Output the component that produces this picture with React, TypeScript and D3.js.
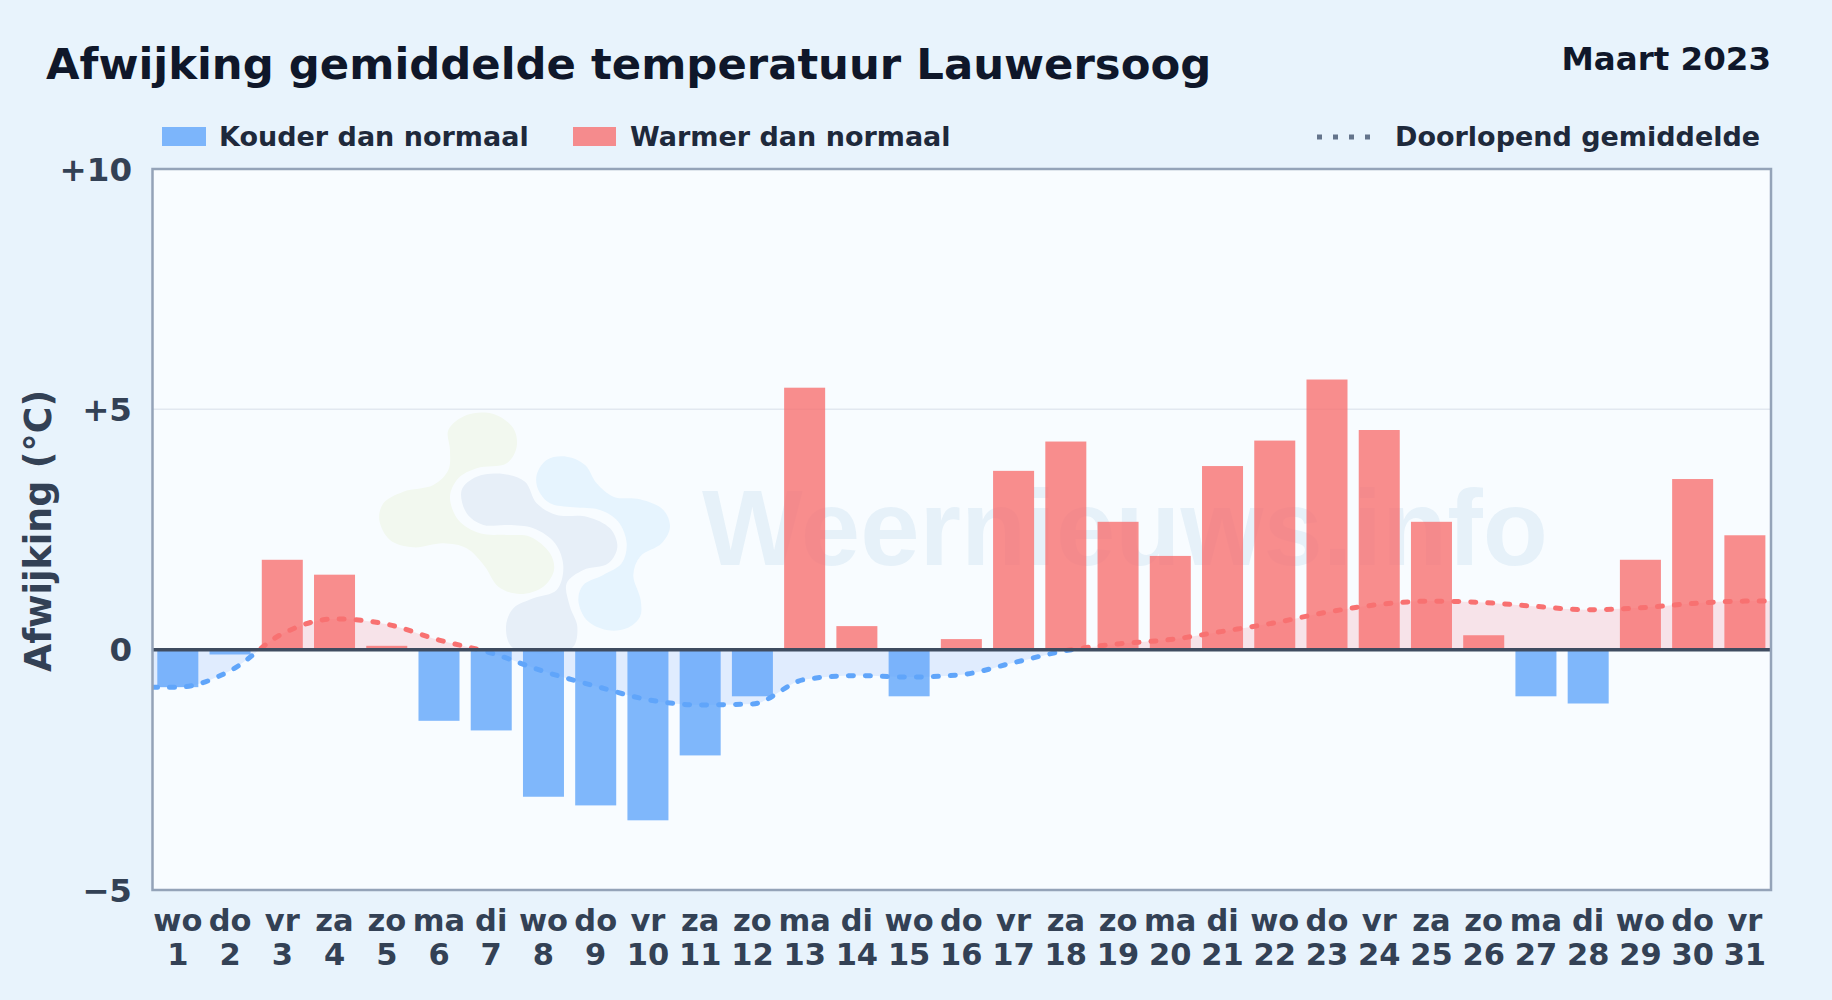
import React from "react";
import * as d3 from "d3";

const W = 1832, H = 1000;
const margin = { left: 152.5, right: 61, top: 169, bottom: 110 };

const weekdays = ["wo","do","vr","za","zo","ma","di","wo","do","vr","za","zo","ma","di","wo","do","vr","za","zo","ma","di","wo","do","vr","za","zo","ma","di","wo","do","vr"];
const days = ["1","2","3","4","5","6","7","8","9","10","11","12","13","14","15","16","17","18","19","20","21","22","23","24","25","26","27","28","29","30","31"];
const anomaly = [-0.78,-0.1,1.87,1.56,0.08,-1.48,-1.68,-3.06,-3.24,-3.55,-2.2,-0.97,5.45,0.49,-0.97,0.22,3.72,4.33,2.66,1.95,3.82,4.35,5.62,4.57,2.66,0.3,-0.97,-1.12,1.87,3.55,2.38];
const runningMean = [-0.78,-0.44,0.33,0.64,0.53,0.2,-0.07,-0.45,-0.76,-1.04,-1.15,-1.13,-0.62,-0.54,-0.57,-0.52,-0.27,-0.02,0.12,0.21,0.38,0.56,0.78,0.94,1.01,0.98,0.9,0.83,0.87,0.96,1.01];
const yTicks = [10, 5, 0, -5];
const yTickLabels = ["+10", "+5", "0", "−5"];
const title = "Afwijking gemiddelde temperatuur Lauwersoog";
const period = "Maart 2023";
const legendCold = "Kouder dan normaal";
const legendWarm = "Warmer dan normaal";
const legendMean = "Doorlopend gemiddelde";
const yTitle = "Afwijking (°C)";
const watermark = "Weernieuws.info";

const logoGreen: [number, number][] = [[552,510],[520,560],[450,582],[385,560],[345,500],[290,445],[220,430],[130,442],[60,420],[28,360],[40,310],[100,275],[190,255],[235,210],[240,150],[235,90],[290,45],[370,42],[430,85],[440,140],[410,190],[320,205],[265,235],[240,290],[265,360],[330,400],[410,405],[480,410],[540,460]];
const logoGrey: [number, number][] = [[275,270],[320,230],[400,222],[465,245],[500,310],[560,345],[650,350],[720,385],[742,440],[715,490],[640,510],[590,550],[600,620],[622,680],[605,745],[430,745],[408,680],[430,625],[490,595],[560,570],[580,500],[555,430],[490,385],[410,375],[340,375],[290,340]];
const logoBlue: [number, number][] = [[500,225],[530,180],[590,170],[645,195],[680,250],[730,290],[810,298],[880,330],[900,380],[875,430],[810,470],[790,525],[812,600],[810,650],[770,685],[710,690],[650,660],[625,600],[640,555],[700,525],[755,490],[770,430],[745,365],[690,330],[610,322],[540,310],[505,270]];

const FONT = "'DejaVu Sans', sans-serif";

export default function App() {
  const innerL = margin.left, innerR = W - margin.right;
  const innerT = margin.top, innerB = H - margin.bottom;
  const x = d3.scaleBand<string>().domain(days).range([innerL - 0.8, innerR]).paddingInner(0.215).paddingOuter(0.1075);
  const y = d3.scaleLinear().domain([-5, 10]).range([innerB, innerT]);
  const cx = (d: string) => (x(d) as number) + x.bandwidth() / 2;
  const y0 = y(0);

  const pts: [number, number][] = [
    [innerL, runningMean[0]],
    ...days.map((d, i) => [cx(d), runningMean[i]] as [number, number]),
    [innerR, runningMean[runningMean.length - 1]],
  ];
  const line = d3.line<[number, number]>().x(d => d[0]).y(d => y(d[1])).curve(d3.curveMonotoneX);
  const area = d3.area<[number, number]>().x(d => d[0]).y0(y0).y1(d => y(d[1])).curve(d3.curveMonotoneX);

  const logoPath = d3.line<[number, number]>().x(d => 370 + d[0] / 3).y(d => 400 + d[1] / 3).curve(d3.curveCatmullRomClosed.alpha(0.5));
  const meanPath = line(pts) as string;
  const areaPath = area(pts) as string;

  return (
    <svg width={W} height={H} viewBox={`0 0 ${W} ${H}`} style={{ position: "absolute", left: 0, top: 0, display: "block" }} fontFamily={FONT}>
      <defs>
        <clipPath id="above"><rect x={innerL} y={innerT} width={innerR - innerL} height={y0 - innerT} /></clipPath>
        <clipPath id="below"><rect x={innerL} y={y0} width={innerR - innerL} height={innerB - y0} /></clipPath>
      </defs>
      <rect width={W} height={H} fill="#e8f3fc" />
      <rect x={innerL} y={innerT} width={innerR - innerL} height={innerB - innerT} fill="#f8fcff" />

      <g>
        <path d={logoPath(logoGreen) as string} fill="#f2f8ef" />
        <path d={logoPath(logoGrey) as string} fill="#e7eff8" />
        <path d={logoPath(logoBlue) as string} fill="#e6f4fe" />
        <text x={702} y={565} fontFamily="'Liberation Sans', sans-serif" fontWeight={700} fontSize={107} textLength={846} lengthAdjust="spacingAndGlyphs" fill="#1f6fb8" fillOpacity={0.08}>{watermark}</text>
      </g>

      <line x1={innerL} x2={innerR} y1={y(5)} y2={y(5)} stroke="#e2e8f0" strokeWidth={1.5} />

      <path d={areaPath} fill="#f5324a" fillOpacity={0.12} clipPath="url(#above)" />
      <path d={areaPath} fill="#3b82f6" fillOpacity={0.13} clipPath="url(#below)" />

      {days.map((d, i) => {
        const v = anomaly[i];
        const top = Math.min(y(v), y0);
        return (
          <rect key={d} x={x(d)} y={top} width={x.bandwidth()} height={Math.abs(y(v) - y0)}
            fill={v >= 0 ? "#f87171" : "#60a5fa"} fillOpacity={0.8} />
        );
      })}

      <path d={meanPath} fill="none" stroke="#f87171" strokeWidth={5} strokeLinecap="round" strokeDasharray="5 12" clipPath="url(#above)" />
      <path d={meanPath} fill="none" stroke="#60a5fa" strokeWidth={5} strokeLinecap="round" strokeDasharray="5 12" clipPath="url(#below)" />

      <line x1={innerL} x2={innerR} y1={y0} y2={y0} stroke="#3f4c60" strokeWidth={3.5} />
      <rect x={innerL} y={innerT} width={innerR - innerL} height={innerB - innerT} fill="none" stroke="#94a3b8" strokeWidth={2.5} />

      {yTicks.map((t, i) => (
        <text key={t} x={132} y={y(t) + 11.5} textAnchor="end" fontWeight={700} fontSize={32.5} fill="#334155">{yTickLabels[i]}</text>
      ))}
      {days.map((d, i) => (
        <g key={d} textAnchor="middle" fontWeight={700} fontSize={30.5} fill="#334155">
          <text x={cx(d)} y={931}>{weekdays[i]}</text>
          <text x={cx(d)} y={965}>{d}</text>
        </g>
      ))}

      <text transform="translate(50.5,531) rotate(-90)" textAnchor="middle" fontWeight={700} fontSize={36.4} fill="#334155">{yTitle}</text>

      <text x={46} y={79} fontWeight={700} fontSize={43.35} fill="#0f172a">{title}</text>
      <text x={1771} y={70} textAnchor="end" fontWeight={700} fontSize={32.5} fill="#0f172a">{period}</text>

      <rect x={162} y={127} width={44} height={19} fill="#60a5fa" fillOpacity={0.8} />
      <text x={219} y={146} fontWeight={700} fontSize={27} fill="#1e293b">{legendCold}</text>
      <rect x={573} y={127} width={43} height={19} fill="#f87171" fillOpacity={0.8} />
      <text x={630} y={146} fontWeight={700} fontSize={27} fill="#1e293b">{legendWarm}</text>
      <line x1={1317} x2={1376} y1={137} y2={137} stroke="#64748b" strokeWidth={5} strokeDasharray="5 11" />
      <text x={1395} y={146} fontWeight={700} fontSize={27} fill="#1e293b">{legendMean}</text>
    </svg>
  );
}
